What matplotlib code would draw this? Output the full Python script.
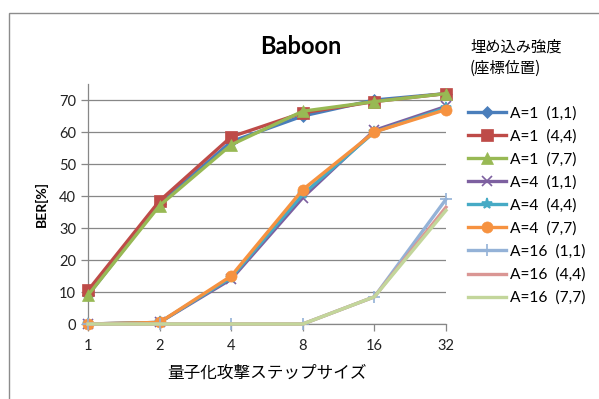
import matplotlib

matplotlib.use("Agg")
import matplotlib.pyplot as plt
from matplotlib.patches import Rectangle

plt.rcParams["font.family"] = ["Lato", "Noto Sans CJK JP", "DejaVu Sans"]

step_sizes = ["1", "2", "4", "8", "16", "32"]

series_labels = [
    "A=1  (1,1)",
    "A=1  (4,4)",
    "A=1  (7,7)",
    "A=4  (1,1)",
    "A=4  (4,4)",
    "A=4  (7,7)",
    "A=16  (1,1)",
    "A=16  (4,4)",
    "A=16  (7,7)",
]

ber_a1_11 = [9.0, 37.5, 57.0, 65.0, 70.0, 72.0]
ber_a1_44 = [10.5, 38.5, 58.5, 66.0, 69.5, 72.0]
ber_a1_77 = [9.0, 37.0, 56.0, 66.5, 69.5, 72.0]
ber_a4_11 = [0.0, 0.5, 14.0, 39.5, 60.5, 68.0]
ber_a4_44 = [0.0, 0.5, 14.5, 40.5, 60.0, 67.5]
ber_a4_77 = [0.0, 0.5, 15.0, 42.0, 60.0, 67.0]
ber_a16_11 = [0.0, 0.0, 0.0, 0.0, 8.5, 39.0]
ber_a16_44 = [0.0, 0.0, 0.0, 0.0, 8.5, 36.5]
ber_a16_77 = [0.0, 0.0, 0.0, 0.0, 8.5, 35.5]

series_values = [
    ber_a1_11, ber_a1_44, ber_a1_77,
    ber_a4_11, ber_a4_44, ber_a4_77,
    ber_a16_11, ber_a16_44, ber_a16_77,
]

colors = [
    "#4A7EBB", "#BE4B48", "#98B954",
    "#7D60A0", "#46AAC5", "#F69240",
    "#94B2D7", "#DA9694", "#C3D69B",
]
markers = ["D", "s", "^", "x", "*", "o", "+", "None", "None"]
marker_sizes = [6, 8, 8, 7, 8, 8, 9, 0, 0]

fig = plt.figure(figsize=(5.99, 3.99), dpi=100)

# chart frame (only the left and top edges fall inside the canvas)
fig.patches.append(Rectangle((9 / 599, -0.1), 1.0, 1 - 13 / 399 + 0.1,
                             transform=fig.transFigure, fill=False,
                             edgecolor="#8C8C8C", linewidth=1.0))

ax = fig.add_axes([88 / 599, 1 - 324 / 399, 358 / 599, 240 / 399])

x = list(range(len(step_sizes)))
handles = []
for label, values, color, marker, ms in zip(series_labels, series_values, colors, markers, marker_sizes):
    (line,) = ax.plot(x, values, color=color, linewidth=2.4, marker=marker,
                      markersize=ms, markeredgewidth=1.2 if marker in ("x", "+", "*") else 0.5,
                      markeredgecolor=color, label=label, clip_on=False, zorder=3)
    handles.append(line)

ax.set_xlim(0, len(step_sizes) - 1)
ax.set_ylim(0, 75)
ax.set_yticks(range(0, 71, 10))
ax.set_xticks(x)
ax.set_xticklabels(step_sizes)

ax.grid(axis="y", color="#878787", linewidth=0.9)
ax.set_axisbelow(True)
for side in ("top", "right"):
    ax.spines[side].set_visible(False)
for side in ("left", "bottom"):
    ax.spines[side].set_color("#878787")
    ax.spines[side].set_linewidth(0.9)
ax.tick_params(axis="both", colors="#878787", length=5, width=0.9, labelsize=10.5,
               labelcolor="#222222")
ax.tick_params(axis="x", pad=6)

ax.set_ylabel("BER[%]", fontsize=10, fontweight="bold", labelpad=8)
ax.set_xlabel("量子化攻撃ステップサイズ", fontsize=12, labelpad=8,
              family=["Noto Sans CJK JP", "DejaVu Sans"])

fig.text(301 / 599, 1 - 47 / 399, "Baboon", fontsize=17, fontweight="bold",
         ha="center", va="center")

fig.text(470 / 599, 1 - 58 / 399, "埋め込み強度\n(座標位置)", fontsize=11,
         ha="left", va="center", linespacing=1.3,
         family=["Noto Sans CJK JP", "DejaVu Sans"])

fig.legend(handles=handles, loc="upper left", bbox_to_anchor=(462 / 599, 1 - 100 / 399),
           frameon=False, fontsize=11.2, handlelength=2.4, handletextpad=0.3,
           labelspacing=0.56, borderaxespad=0)

fig.savefig("out.png", dpi=100)
